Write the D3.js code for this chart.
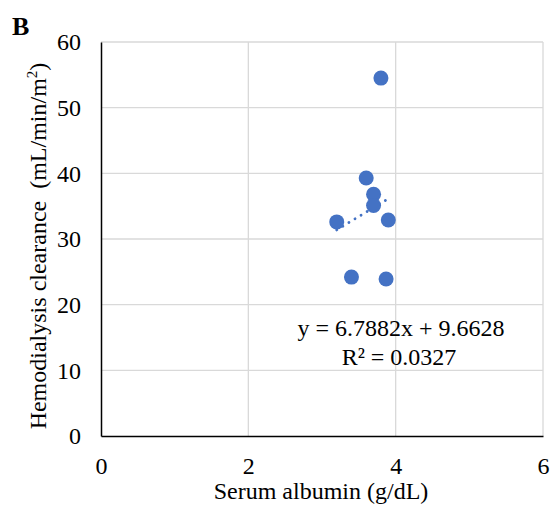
<!DOCTYPE html>
<html><head><meta charset="utf-8">
<script src="https://cdn.jsdelivr.net/npm/d3@7/dist/d3.min.js"></script>
<style>body{margin:0;background:#fff}svg{display:block}text{font-family:"Liberation Serif","Times New Roman",serif;fill:#000}</style>
</head><body><svg id="c" width="553" height="507"></svg>
<script>
const albumin = [3.80, 3.60, 3.70, 3.70, 3.90, 3.20, 3.40, 3.87];
const clearance = [54.5, 39.3, 36.8, 35.1, 32.9, 32.6, 24.2, 23.9];
const xTicks = [0, 2, 4, 6];
const yTicks = [0, 10, 20, 30, 40, 50, 60];
const slope = 6.7882, intercept = 9.6628;
const eqLabel = "y = 6.7882x + 9.6628";
const r2Label = "R² = 0.0327";

const FS = 24;
const svg = d3.select("#c");
const x = d3.scaleLinear().domain([0, 6]).range([101, 543]);
const y = d3.scaleLinear().domain([0, 60]).range([436, 42]);

// grid
svg.append("g").selectAll("line").data(yTicks.filter(d => d > 0)).join("line")
  .attr("x1", x(0)).attr("x2", x(6)).attr("y1", d => y(d)).attr("y2", d => y(d))
  .attr("stroke", "#d9d9d9").attr("stroke-width", 1.3);
svg.append("g").selectAll("line").data(xTicks.filter(d => d > 0)).join("line")
  .attr("y1", y(0)).attr("y2", y(60)).attr("x1", d => x(d)).attr("x2", d => x(d))
  .attr("stroke", "#d9d9d9").attr("stroke-width", 1.3);

// axes
const xAxis = svg.append("g").attr("transform", `translate(0,${y(0)})`)
  .call(d3.axisBottom(x).tickValues(xTicks).tickFormat(d3.format("d")).tickSize(0).tickPadding(21));
xAxis.select(".domain").attr("stroke", "#000").attr("stroke-width", 1.5);
xAxis.selectAll("text").attr("font-size", FS).attr("font-family", "Liberation Serif");
const yAxis = svg.append("g").attr("transform", `translate(${x(0)},0)`)
  .call(d3.axisLeft(y).tickValues(yTicks).tickFormat(d3.format("d")).tickSize(0).tickPadding(20));
yAxis.select(".domain").attr("stroke", "#000").attr("stroke-width", 1.5);
yAxis.selectAll("text").attr("font-size", FS).attr("font-family", "Liberation Serif");

// trendline
const xs = d3.extent(albumin);
svg.append("line")
  .attr("x1", x(xs[0])).attr("y1", y(slope * xs[0] + intercept))
  .attr("x2", x(xs[1])).attr("y2", y(slope * xs[1] + intercept))
  .attr("stroke", "#4472c4").attr("stroke-width", 2.8)
  .attr("stroke-dasharray", "0.1 7").attr("stroke-linecap", "round");

// points
svg.append("g").selectAll("circle").data(albumin.map((a, i) => [a, clearance[i]])).join("circle")
  .attr("cx", d => x(d[0])).attr("cy", d => y(d[1])).attr("r", 7.5)
  .attr("fill", "#4472c4");

// equation
svg.append("text").attr("x", 401).attr("y", 336).attr("text-anchor", "middle")
  .attr("font-size", FS).text(eqLabel);
svg.append("text").attr("x", 399).attr("y", 365).attr("text-anchor", "middle")
  .attr("font-size", FS).text(r2Label);

// axis titles
svg.append("text").attr("x", 321).attr("y", 499).attr("text-anchor", "middle")
  .attr("font-size", FS).text("Serum albumin (g/dL)");
const yt = svg.append("text").attr("transform", "translate(46,246) rotate(-90)")
  .attr("text-anchor", "middle").attr("font-size", FS).style("white-space", "pre");
yt.append("tspan").text("Hemodialysis clearance  (mL/min/m");
yt.append("tspan").attr("dy", -9).attr("font-size", 15).text("2");
yt.append("tspan").attr("dy", 9).text(")");

svg.append("text").attr("x", 12).attr("y", 35).attr("font-size", 26)
  .attr("font-weight", "bold").text("B");
</script></body></html>
